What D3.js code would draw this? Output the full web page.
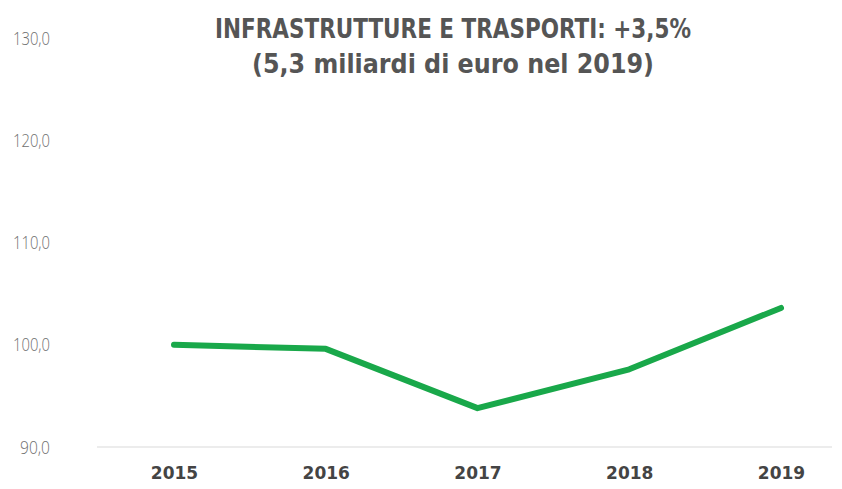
<!DOCTYPE html>
<html>
<head>
<meta charset="utf-8">
<script src="https://cdn.jsdelivr.net/npm/d3@7"></script>
<style>
  body { margin: 0; background: #fff; }
  svg { display: block; }
</style>
</head>
<body>
<svg id="chart" width="842" height="489"></svg>
<script>
const years = ["2015", "2016", "2017", "2018", "2019"];
const values = [100.0, 99.6, 93.8, 97.6, 103.6];
const yTicks = [90, 100, 110, 120, 130];
const titleLines = ["INFRASTRUTTURE E TRASPORTI: +3,5%", "(5,3 miliardi di euro nel 2019)"];

const svg = d3.select("#chart");
const fmt = (v) => d3.format(".1f")(v).replace(".", ",");

const xScale = d3.scalePoint().domain(years).range([174, 781]);
const yScale = d3.scaleLinear().domain([90, 130]).range([447, 38]);

// baseline at 90
svg.append("line")
  .attr("x1", 97).attr("x2", 832)
  .attr("y1", yScale(90)).attr("y2", yScale(90))
  .attr("stroke", "#d9d9d9").attr("stroke-width", 1);

const yAxis = svg.append("g")
  .attr("transform", "translate(50,0)")
  .call(d3.axisLeft(yScale).tickValues(yTicks).tickFormat(fmt).tickSize(0).tickPadding(0));
yAxis.select(".domain").remove();
yAxis.selectAll("text")
  .attr("fill", "#6e6e6e")
  .attr("textLength", (d) => (d >= 100 ? 37 : 30))
  .attr("lengthAdjust", "spacingAndGlyphs")
  .style("font-family", "'Open Sans', 'DejaVu Sans', sans-serif")
  .style("font-weight", "300")
  .style("font-size", "19px");

const xAxis = svg.append("g")
  .attr("transform", `translate(0,${yScale(90)})`)
  .call(d3.axisBottom(xScale).tickSize(0).tickPadding(20));
xAxis.select(".domain").remove();
xAxis.selectAll("text")
  .attr("fill", "#444")
  .style("font-family", "'DejaVu Sans', sans-serif")
  .style("font-weight", "bold")
  .style("font-size", "17px");

const valueLine = d3.line()
  .x((d, i) => xScale(years[i]))
  .y((d) => yScale(d));

svg.append("path")
  .datum(values)
  .attr("d", valueLine)
  .attr("fill", "none")
  .attr("stroke", "#19a84a")
  .attr("stroke-width", 6)
  .attr("stroke-linecap", "round")
  .attr("stroke-linejoin", "round");

svg.selectAll(".title")
  .data(titleLines)
  .enter()
  .append("text")
  .attr("class", "title")
  .attr("x", 453)
  .attr("y", (d, i) => 38 + i * 35)
  .attr("text-anchor", "middle")
  .attr("textLength", (d, i) => (i === 0 ? 476 : 402))
  .attr("lengthAdjust", "spacingAndGlyphs")
  .attr("fill", "#555")
  .style("font-family", "'DejaVu Sans Condensed', 'Liberation Sans Narrow', sans-serif")
  .style("font-weight", "bold")
  .style("font-size", "26px")
  .text((d) => d);
</script>
</body>
</html>
